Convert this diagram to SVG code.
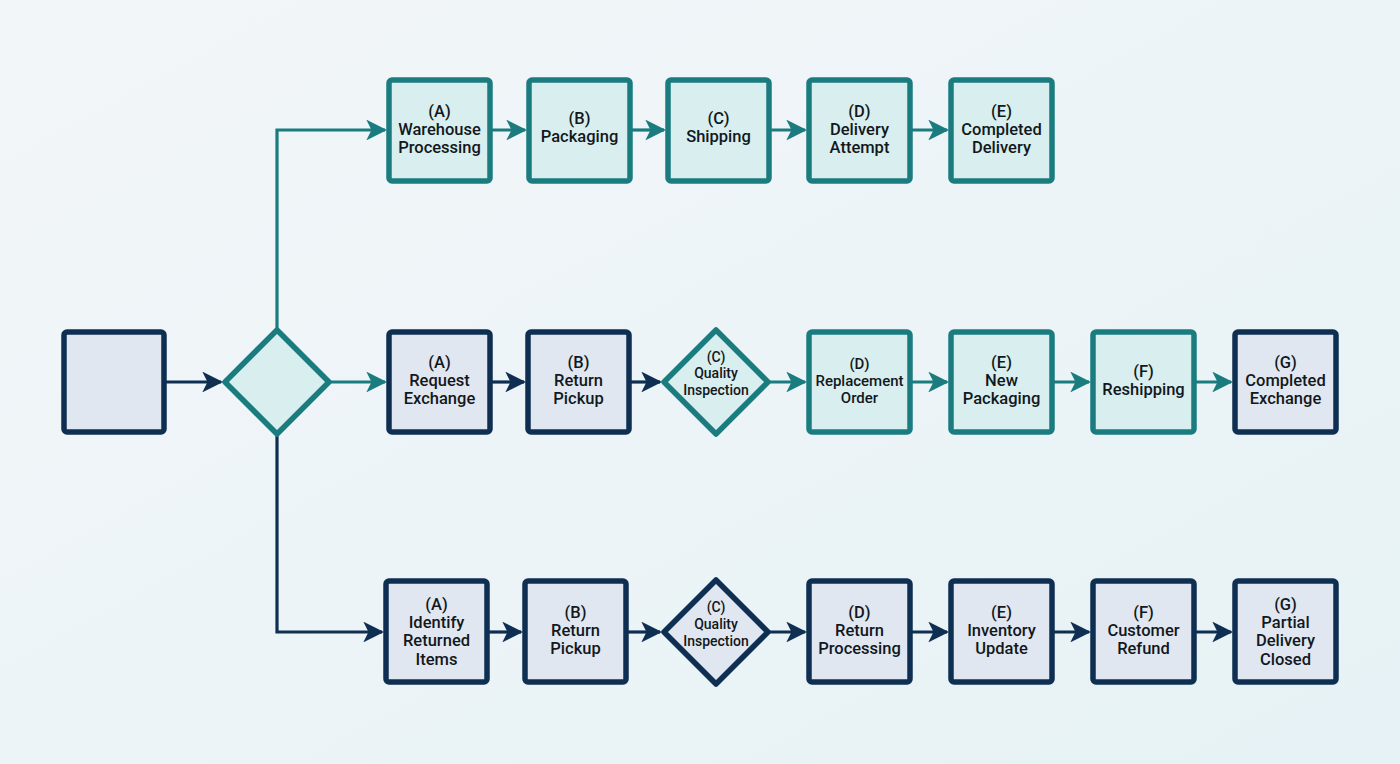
<svg xmlns="http://www.w3.org/2000/svg" width="1400" height="764" viewBox="0 0 1400 764">
<defs>
<linearGradient id="bg" x1="0" y1="0" x2="1" y2="1">
<stop offset="0" stop-color="#f3f6f9"/>
<stop offset="1" stop-color="#e6f2f5"/>
</linearGradient>
<marker id="at" viewBox="0 0 10 10" refX="9" refY="5" markerWidth="6.5" markerHeight="6.5" markerUnits="strokeWidth" orient="auto">
<path d="M0,0 L10,5 L0,10 L2.5,5 Z" fill="#1b7c80"/>
</marker>
<marker id="an" viewBox="0 0 10 10" refX="9" refY="5" markerWidth="6.5" markerHeight="6.5" markerUnits="strokeWidth" orient="auto">
<path d="M0,0 L10,5 L0,10 L2.5,5 Z" fill="#0f2f52"/>
</marker>
<style>
.bt{fill:#d9eeee;stroke:#1b7c80;stroke-width:5.5}
.bn{fill:#e1e7f0;stroke:#0f2f52;stroke-width:5.5}
.ct{fill:none;stroke:#1b7c80;stroke-width:3.2;marker-end:url(#at)}
.cn{fill:none;stroke:#0f2f52;stroke-width:3.2;marker-end:url(#an)}
text{font-family:Roboto,"Liberation Sans",sans-serif;font-size:16.5px;font-weight:500;fill:#111820;text-anchor:middle;dominant-baseline:central}
.s{font-size:14px}
.m{font-size:15px}
</style>
</defs>
<rect width="1400" height="764" fill="url(#bg)"/>

<g id="connectors">
<path class="cn" d="M166,382 H221"/>
<path class="ct" d="M277,328 V130 H385"/>
<path class="ct" d="M331,382 H385"/>
<path class="cn" d="M277,436 V632 H382"/>
<path class="ct" d="M492,130 H525"/>
<path class="ct" d="M632,130 H664"/>
<path class="ct" d="M771,130 H805"/>
<path class="ct" d="M912,130 H947"/>
<path class="cn" d="M492,382 H524"/>
<path class="cn" d="M631,382 H660"/>
<path class="ct" d="M770,382 H805"/>
<path class="ct" d="M912,382 H947"/>
<path class="ct" d="M1054,382 H1089"/>
<path class="ct" d="M1196,382 H1231"/>
<path class="cn" d="M489,632 H521"/>
<path class="cn" d="M628,632 H660"/>
<path class="cn" d="M770,632 H805"/>
<path class="cn" d="M912,632 H947"/>
<path class="cn" d="M1054,632 H1089"/>
<path class="cn" d="M1196,632 H1231"/>
</g>

<g id="start"><rect class="bn" x="64" y="332" width="100" height="100" rx="3"/></g>
<g id="decision"><path class="bt" d="M277,330 L329,382 L277,434 L225,382 Z" stroke-linejoin="round"/></g>

<g id="t-a"><rect class="bt" x="389" y="80" width="101" height="101" rx="3"/><text x="439.5" y="111">(A)</text><text x="439.5" y="129">Warehouse</text><text x="439.5" y="147">Processing</text></g>
<g id="t-b"><rect class="bt" x="529" y="80" width="101" height="101" rx="3"/><text x="579.5" y="118">(B)</text><text x="579.5" y="136">Packaging</text></g>
<g id="t-c"><rect class="bt" x="668" y="80" width="101" height="101" rx="3"/><text x="718.5" y="118">(C)</text><text x="718.5" y="136">Shipping</text></g>
<g id="t-d"><rect class="bt" x="809" y="80" width="101" height="101" rx="3"/><text x="859.5" y="111">(D)</text><text x="859.5" y="129">Delivery</text><text x="859.5" y="147">Attempt</text></g>
<g id="t-e"><rect class="bt" x="951" y="80" width="101" height="101" rx="3"/><text x="1001.5" y="111">(E)</text><text x="1001.5" y="129">Completed</text><text x="1001.5" y="147">Delivery</text></g>

<g id="m-a"><rect class="bn" x="389" y="332" width="101" height="100" rx="3"/><text x="439.5" y="362">(A)</text><text x="439.5" y="380">Request</text><text x="439.5" y="398">Exchange</text></g>
<g id="m-b"><rect class="bn" x="528" y="332" width="101" height="100" rx="3"/><text x="578.5" y="362">(B)</text><text x="578.5" y="380">Return</text><text x="578.5" y="398">Pickup</text></g>
<g id="m-c"><path class="bt" d="M716,330 L768,382 L716,434 L664,382 Z" stroke-linejoin="round"/><text class="s" x="716" y="357">(C)</text><text class="s" x="716" y="373">Quality</text><text class="s" x="716" y="390">Inspection</text></g>
<g id="m-d"><rect class="bt" x="809" y="332" width="101" height="100" rx="3"/><text class="m" x="859.5" y="364">(D)</text><text class="m" x="859.5" y="381">Replacement</text><text class="m" x="859.5" y="398">Order</text></g>
<g id="m-e"><rect class="bt" x="951" y="332" width="101" height="100" rx="3"/><text x="1001.5" y="362">(E)</text><text x="1001.5" y="380">New</text><text x="1001.5" y="398">Packaging</text></g>
<g id="m-f"><rect class="bt" x="1093" y="332" width="101" height="100" rx="3"/><text x="1143.5" y="371">(F)</text><text x="1143.5" y="389">Reshipping</text></g>
<g id="m-g"><rect class="bn" x="1235" y="332" width="101" height="100" rx="3"/><text x="1285.5" y="362">(G)</text><text x="1285.5" y="380">Completed</text><text x="1285.5" y="398">Exchange</text></g>

<g id="b-a"><rect class="bn" x="386" y="581" width="101" height="101" rx="3"/><text x="436.5" y="604">(A)</text><text x="436.5" y="622">Identify</text><text x="436.5" y="640">Returned</text><text x="436.5" y="659">Items</text></g>
<g id="b-b"><rect class="bn" x="525" y="581" width="101" height="101" rx="3"/><text x="575.5" y="612">(B)</text><text x="575.5" y="630">Return</text><text x="575.5" y="648">Pickup</text></g>
<g id="b-c"><path class="bn" d="M716,580 L768,632 L716,684 L664,632 Z" stroke-linejoin="round"/><text class="s" x="716" y="607">(C)</text><text class="s" x="716" y="624">Quality</text><text class="s" x="716" y="641">Inspection</text></g>
<g id="b-d"><rect class="bn" x="809" y="581" width="101" height="101" rx="3"/><text x="859.5" y="612">(D)</text><text x="859.5" y="630">Return</text><text x="859.5" y="648">Processing</text></g>
<g id="b-e"><rect class="bn" x="951" y="581" width="101" height="101" rx="3"/><text x="1001.5" y="612">(E)</text><text x="1001.5" y="630">Inventory</text><text x="1001.5" y="648">Update</text></g>
<g id="b-f"><rect class="bn" x="1093" y="581" width="101" height="101" rx="3"/><text x="1143.5" y="612">(F)</text><text x="1143.5" y="630">Customer</text><text x="1143.5" y="648">Refund</text></g>
<g id="b-g"><rect class="bn" x="1235" y="581" width="101" height="101" rx="3"/><text x="1285.5" y="604">(G)</text><text x="1285.5" y="622">Partial</text><text x="1285.5" y="640">Delivery</text><text x="1285.5" y="659">Closed</text></g>
</svg>
